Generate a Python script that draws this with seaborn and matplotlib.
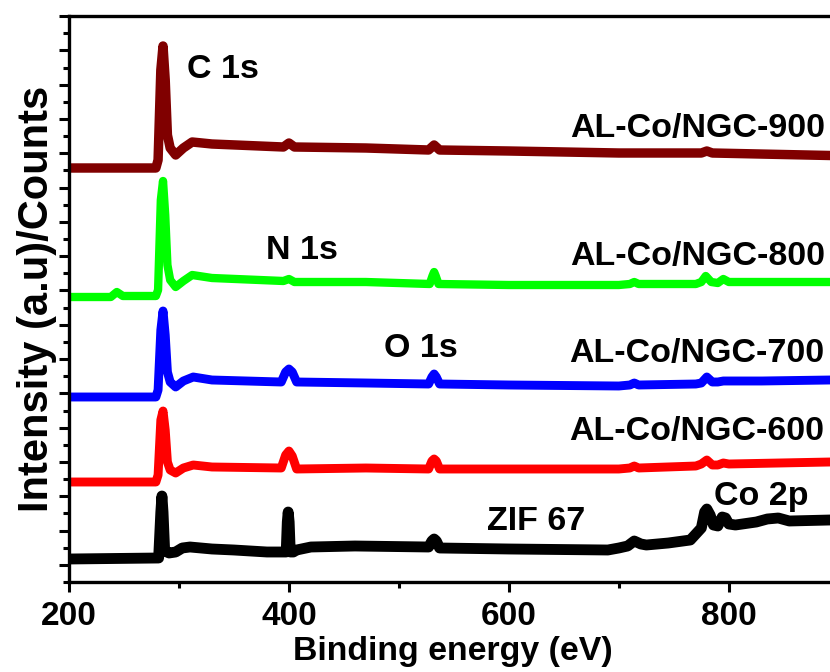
import numpy as np
import pandas as pd
import matplotlib
matplotlib.use("Agg")
import matplotlib.pyplot as plt
from matplotlib.ticker import FixedLocator, NullFormatter
import seaborn as sns

# ---- survey spectra (binding energy in eV, intensity in arbitrary counts, stacked) ----
e_900 = [200, 279, 281, 283.5, 285.5, 287.5, 289.5, 292, 297, 304, 312, 330, 395, 400, 405,
         470, 527, 532, 537, 600, 700, 775, 780, 785, 892]
i_900 = [414, 414, 422, 512, 536, 502, 447, 434, 427, 434, 440, 438, 435, 439, 435,
         434, 432, 437, 432, 431, 429, 429, 431, 429, 426.5]

e_800 = [200, 238, 243.5, 249, 279, 281, 283.5, 285.5, 287.5, 289.5, 292, 297, 304, 312, 330,
         395, 400, 405, 470, 528, 530.5, 532, 533.5, 536, 600, 700, 710, 714, 718, 770, 775,
         779, 784, 790, 795, 800, 892]
i_800 = [285, 285, 290, 286, 286, 292, 382, 401, 367, 317, 302, 295, 301, 307, 304,
         301, 303, 300, 300, 298, 306, 310, 306, 298, 297, 297, 298, 300, 298, 298, 300,
         306, 300, 299, 303, 300, 300]

e_700 = [200, 279, 281, 283.5, 285.5, 287.5, 289.5, 292, 297, 304, 313, 330, 393, 397, 400,
         403, 407, 470, 527, 530, 532, 534, 537, 600, 700, 710, 714, 718, 770, 775, 780, 785,
         790, 795, 830, 892]
i_700 = [185, 185, 192, 252, 271, 247, 210, 200, 195, 201, 205, 202, 200, 210, 213,
         210, 200, 199, 198, 205, 208, 205, 198, 197, 196, 197, 199, 197, 198, 199, 205, 200,
         200, 201, 201, 202]

e_600 = [200, 279, 281, 283.5, 285.5, 287.5, 289.5, 292, 297, 304, 313, 330, 393, 397, 400,
         403, 407, 470, 527, 530, 532, 534, 537, 600, 700, 710, 714, 718, 770, 775, 780, 785,
         790, 795, 800, 892]
i_600 = [100, 100, 107, 162, 171, 152, 120, 112, 109, 114, 117, 115, 114, 127, 131,
         126, 113, 114, 113, 121, 123, 121, 113, 113, 113, 114, 116, 114, 116, 118, 122, 117,
         117, 119, 118, 120]

e_zif = [200, 281.5, 283.5, 284.5, 285.5, 287, 291, 297, 303, 310, 330, 350, 380, 397.5,
         398.5, 399.3, 400.2, 401.2, 404, 407, 420, 460, 527, 530, 532, 534, 537, 600, 690,
         700, 708, 714, 720, 725, 745, 765, 775, 778, 780, 783, 786, 790, 794, 797, 800, 806,
         825, 835, 845, 855, 892]
i_zif = [23, 24, 70, 86, 70, 31, 29, 30, 34, 35, 33, 32, 30, 30,
         60, 70, 60, 30, 30, 32, 35, 36, 35, 41, 43, 41, 34, 33, 32,
         34, 36, 41, 38, 37, 39, 42, 54, 70, 73, 67, 57, 56, 65, 64, 58, 57,
         60, 63, 64, 61, 62]

samples = ["ZIF 67", "AL-Co/NGC-600", "AL-Co/NGC-700", "AL-Co/NGC-800", "AL-Co/NGC-900"]
energies = [e_zif, e_600, e_700, e_800, e_900]
intensities = [i_zif, i_600, i_700, i_800, i_900]
colors = ["#000000", "#ff0000", "#0000ff", "#00ff00", "#800000"]
widths = [7.8, 6.4, 6.4, 6.0, 6.8]

# peak and sample annotations: (text, energy, intensity at baseline)
peak_labels = [("C 1s", 340, 504), ("N 1s", 411.8, 323), ("O 1s", 520, 225), ("Co 2p", 829.5, 77)]
sample_labels = [("AL-Co/NGC-900", 772, 445), ("AL-Co/NGC-800", 772, 317),
                 ("AL-Co/NGC-700", 771, 220), ("AL-Co/NGC-600", 771, 142),
                 ("ZIF 67", 624.5, 52)]

x_ticks = [200, 400, 600, 800]

sns.set_theme(style="ticks")
plt.rcParams["font.family"] = ["Liberation Sans", "DejaVu Sans"]
plt.rcParams["font.weight"] = "bold"

fig = plt.figure(figsize=(8.3, 6.72), dpi=100)
ax = fig.add_axes([69 / 830, 90 / 672, 1 - 69 / 830, 566 / 672])

frames = []
for name, e, i in zip(samples, energies, intensities):
    frames.append(pd.DataFrame({"energy": e, "intensity": i, "sample": name}))
data = pd.concat(frames, ignore_index=True)

for name, c, lw in zip(samples, colors, widths):
    sub = data[data["sample"] == name]
    sns.lineplot(data=sub, x="energy", y="intensity", color=c, linewidth=lw,
                 estimator=None, sort=False, ax=ax, legend=False)
for line in ax.get_lines():
    line.set_solid_joinstyle("round")
    line.set_solid_capstyle("round")

ax.set_xlim(200, 892)
ax.set_ylim(0, 566)

ax.xaxis.set_major_locator(FixedLocator(x_ticks))
ax.xaxis.set_minor_locator(FixedLocator([300, 500, 700]))
ax.yaxis.set_major_locator(FixedLocator(np.arange(17.15, 567, 34.3)))
ax.yaxis.set_minor_locator(FixedLocator(np.arange(0, 567, 17.15)))
ax.yaxis.set_major_formatter(NullFormatter())
ax.set_xticklabels([str(t) for t in x_ticks])

ax.tick_params(axis="both", which="major", direction="out", length=7.5, width=2.2,
               labelsize=24, color="black", labelcolor="black")
ax.tick_params(axis="both", which="minor", direction="out", length=4, width=2.2, color="black")
ax.tick_params(axis="x", pad=6)
for lab in ax.get_xticklabels():
    lab.set_fontweight("bold")

for side in ["left", "bottom", "top"]:
    ax.spines[side].set_linewidth(2.4)
    ax.spines[side].set_color("black")
ax.spines["right"].set_visible(False)

ax.set_xlabel("Binding energy (eV)", fontsize=24.4, fontweight="bold", color="black")
ax.set_ylabel("Intensity (a.u)/Counts", fontsize=30, fontweight="bold", color="black")
ax.xaxis.set_label_coords((453 - 69) / 761, -0.095)
ax.yaxis.set_label_coords(-0.016, 0.5)

for txt, x, y in peak_labels + sample_labels:
    ax.text(x, y, txt, fontsize=24.5, fontweight="bold", color="black",
            ha="center", va="baseline")

fig.savefig("out.png", dpi=100)
